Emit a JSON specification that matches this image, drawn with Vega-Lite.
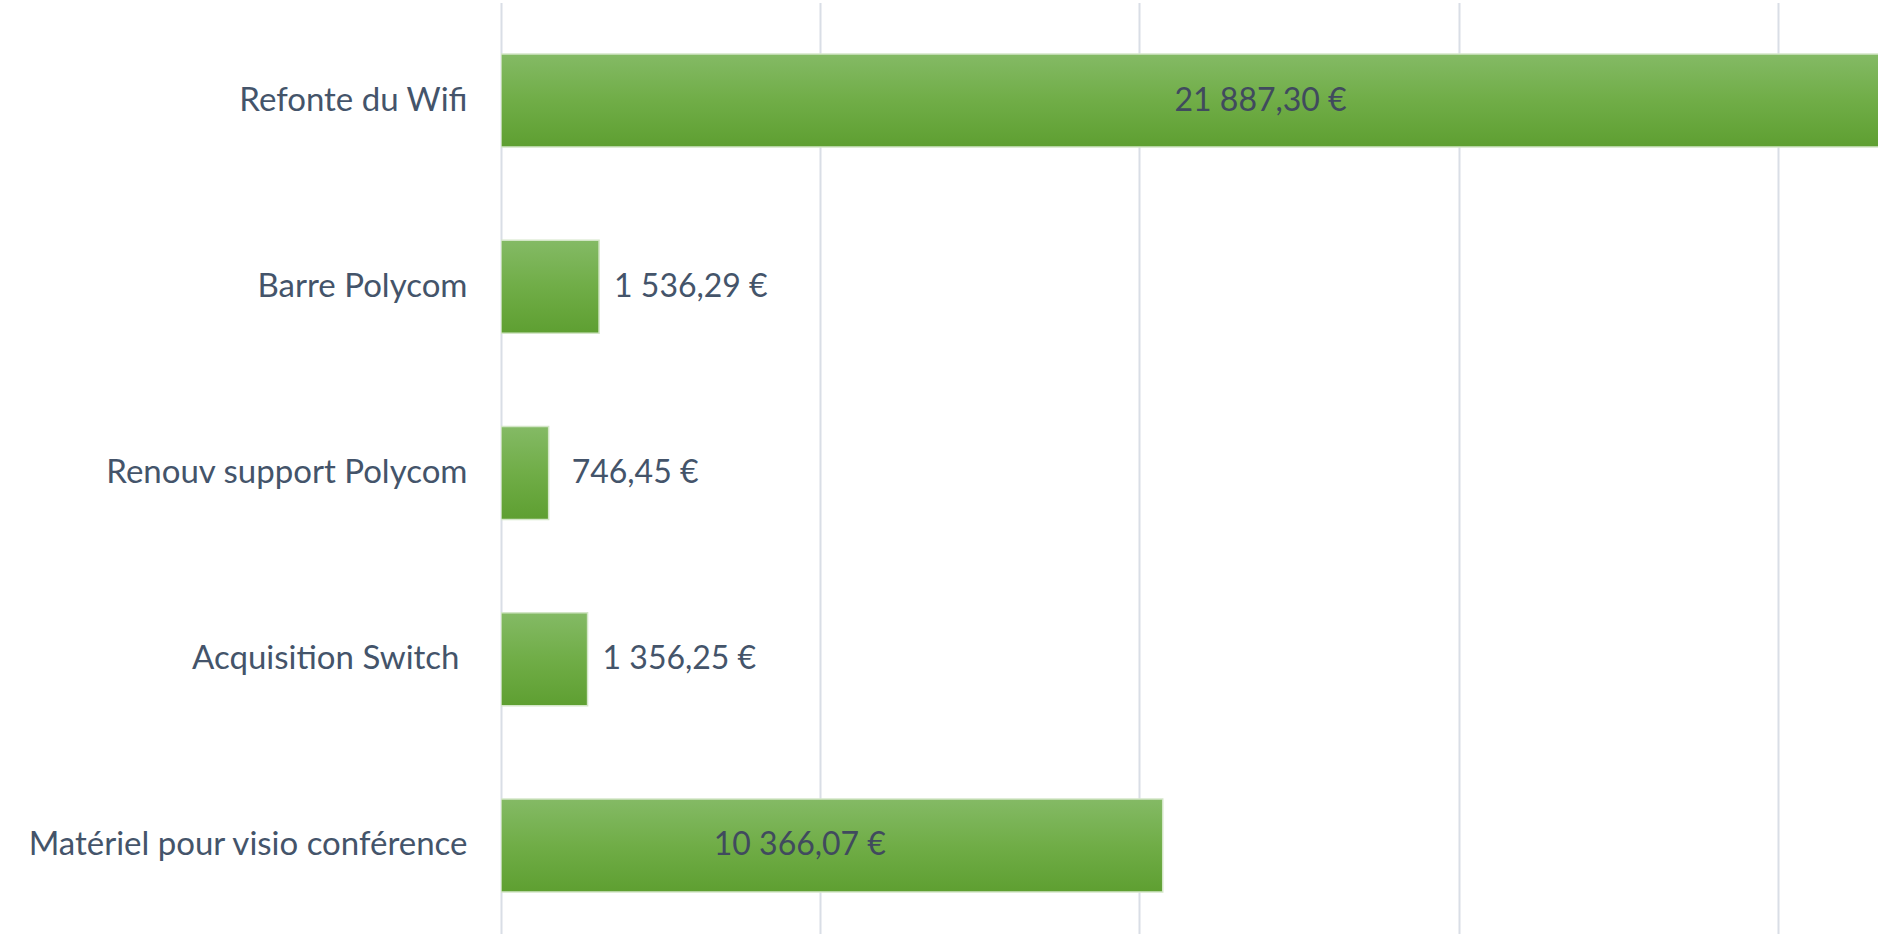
{
  "$schema": "https://vega.github.io/schema/vega-lite/v6.json",
  "width": 1377,
  "height": 927,
  "autosize": "none",
  "padding": {"left": 501, "top": 7, "right": 0, "bottom": 0},
  "background": "#ffffff",
  "config": {
    "view": {"stroke": null},
    "font": "Lato",
    "locale": {
      "number": {"decimal": ",", "thousands": "\u00a0", "grouping": [3], "currency": ["", "\u00a0€"]}
    }
  },
  "data": {
    "values": [
      {"cat": "Refonte du Wifi", "value": 21887.30},
      {"cat": "Barre Polycom", "value": 1536.29},
      {"cat": "Renouv support Polycom", "value": 746.45},
      {"cat": "Acquisition Switch", "value": 1356.25},
      {"cat": "Matériel pour visio conférence", "value": 10366.07}
    ]
  },
  "encoding": {
    "y": {
      "field": "cat",
      "type": "nominal",
      "sort": null,
      "scale": {"paddingInner": 0.5, "paddingOuter": 0.25, "range": [0.4, 931.6]},
      "axis": {
        "title": null,
        "ticks": false,
        "domain": false,
        "labelPadding": {"condition": {"test": "datum.value === 'Acquisition Switch'", "value": 42}, "value": 34},
        "labelFontSize": 33,
        "labelColor": "#44546A",
        "labelLimit": 0,
        "labelFont": "Lato"
      }
    }
  },
  "layer": [
    {
      "mark": {
        "type": "bar",
        "clip": true,
        "stroke": "#d3e6c7",
        "strokeWidth": 1.5,
        "color": {
          "gradient": "linear",
          "x1": 0, "y1": 0, "x2": 0, "y2": 1,
          "stops": [
            {"offset": 0, "color": "#84BA65"},
            {"offset": 0.5, "color": "#70AD47"},
            {"offset": 1, "color": "#5E9F31"}
          ]
        }
      },
      "encoding": {
        "x": {
          "field": "value",
          "type": "quantitative",
          "scale": {"domain": [0, 21571], "nice": false, "zero": true},
          "axis": {
            "title": null,
            "labels": false,
            "ticks": false,
            "domain": false,
            "grid": true,
            "gridColor": "#D9DEE6",
            "gridWidth": 2,
            "values": [0, 5000, 10000, 15000, 20000]
          }
        }
      }
    },
    {
      "transform": [{"filter": "datum.value < 5000 && datum.value > 1000"}],
      "mark": {"type": "text", "align": "left", "baseline": "middle", "dx": 15, "fontSize": 32, "color": "#44546A"},
      "encoding": {
        "x": {"field": "value", "type": "quantitative"},
        "text": {"field": "value", "type": "quantitative", "format": "$,.2f"}
      }
    },
    {
      "transform": [{"filter": "datum.value < 1000"}],
      "mark": {"type": "text", "align": "left", "baseline": "middle", "dx": 23, "fontSize": 32, "color": "#44546A"},
      "encoding": {
        "x": {"field": "value", "type": "quantitative"},
        "text": {"field": "value", "type": "quantitative", "format": "$,.2f"}
      }
    },
    {
      "transform": [{"filter": "datum.cat === 'Refonte du Wifi'"}, {"calculate": "datum.value / 2", "as": "mid"}],
      "mark": {"type": "text", "align": "center", "baseline": "middle", "dx": 61, "fontSize": 32, "color": "#404A5E"},
      "encoding": {
        "x": {"field": "mid", "type": "quantitative"},
        "text": {"field": "value", "type": "quantitative", "format": "$,.2f"}
      }
    },
    {
      "transform": [{"filter": "datum.cat === 'Matériel pour visio conférence'"}, {"calculate": "datum.value / 2", "as": "mid"}],
      "mark": {"type": "text", "align": "center", "baseline": "middle", "dx": -32, "fontSize": 32, "color": "#404A5E"},
      "encoding": {
        "x": {"field": "mid", "type": "quantitative"},
        "text": {"field": "value", "type": "quantitative", "format": "$,.2f"}
      }
    }
  ]
}
